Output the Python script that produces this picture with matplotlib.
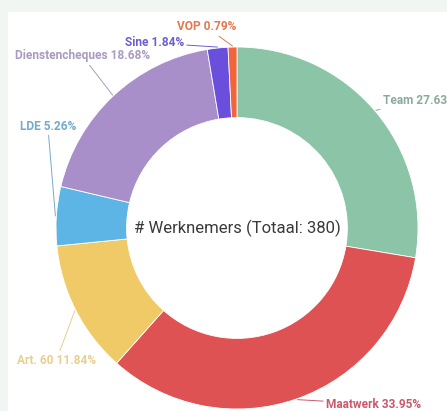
import numpy as np
import matplotlib.pyplot as plt
from matplotlib.patches import Rectangle

# data
labels = ['Team', 'Maatwerk', 'Art. 60', 'LDE', 'Dienstencheques', 'Sine', 'VOP']
counts = [105, 129, 45, 20, 71, 7, 3]
pcts = ['27.63', '33.95%', '11.84%', '5.26%', '18.68%', '1.84%', '0.79%']
total = 380

colors = ['#8cc4a7', '#df5254', '#efca66', '#5cb5e4', '#a98fc9', '#6a4fdc', '#f2653a']
text_colors = ['#8cab9c', '#c95a6e', '#e8cf8e', '#74aacb', '#a99bc2', '#6b5fd0', '#e5774f']

# label text anchor (pixels, y from top) and ha
label_pos = [(383, 101, 'left'), (326, 404, 'left'), (96, 360, 'right'),
             (76, 126, 'right'), (150, 56, 'right'), (184, 43, 'right'),
             (236, 27, 'right')]

W, H = 447, 411
fig = plt.figure(figsize=(W / 100, H / 100), dpi=100)
fig.patch.set_facecolor('#f2f6f2')
ax = fig.add_axes([0, 0, 1, 1])
ax.add_patch(Rectangle((8, 0), W - 8, H - 12, facecolor='white', edgecolor='none', zorder=0))

cx, cy, R = 237, H - 228, 181
wedges, _ = ax.pie(counts, colors=colors, startangle=90, counterclock=False,
                   center=(cx, cy), radius=R, frame=True,
                   wedgeprops=dict(width=R * 0.39, edgecolor='white', linewidth=0.6))
ax.set_xlim(0, W)
ax.set_ylim(0, H)
ax.set_aspect('equal')
ax.axis('off')

for w, lab, p, tc, (tx, ty, ha) in zip(wedges, labels, pcts, text_colors, label_pos):
    ang = np.deg2rad((w.theta1 + w.theta2) / 2)
    x0 = cx + (R + 1) * np.cos(ang)
    y0 = cy + (R + 1) * np.sin(ang)
    ax.annotate(f'{lab} {p}', xy=(x0, y0), xytext=(tx, H - ty),
                ha=ha, va='center', color=tc, fontsize=8.6, family='Roboto',
                fontweight='bold',
                arrowprops=dict(arrowstyle='-', color=tc, lw=0.7,
                                shrinkA=0, shrinkB=0))

ax.text(cx, cy, f'# Werknemers (Totaal: {total})', ha='center', va='center',
        fontsize=12, family='Roboto', color='#3a3a3a')

fig.savefig('out.png', dpi=100, facecolor=fig.get_facecolor())
